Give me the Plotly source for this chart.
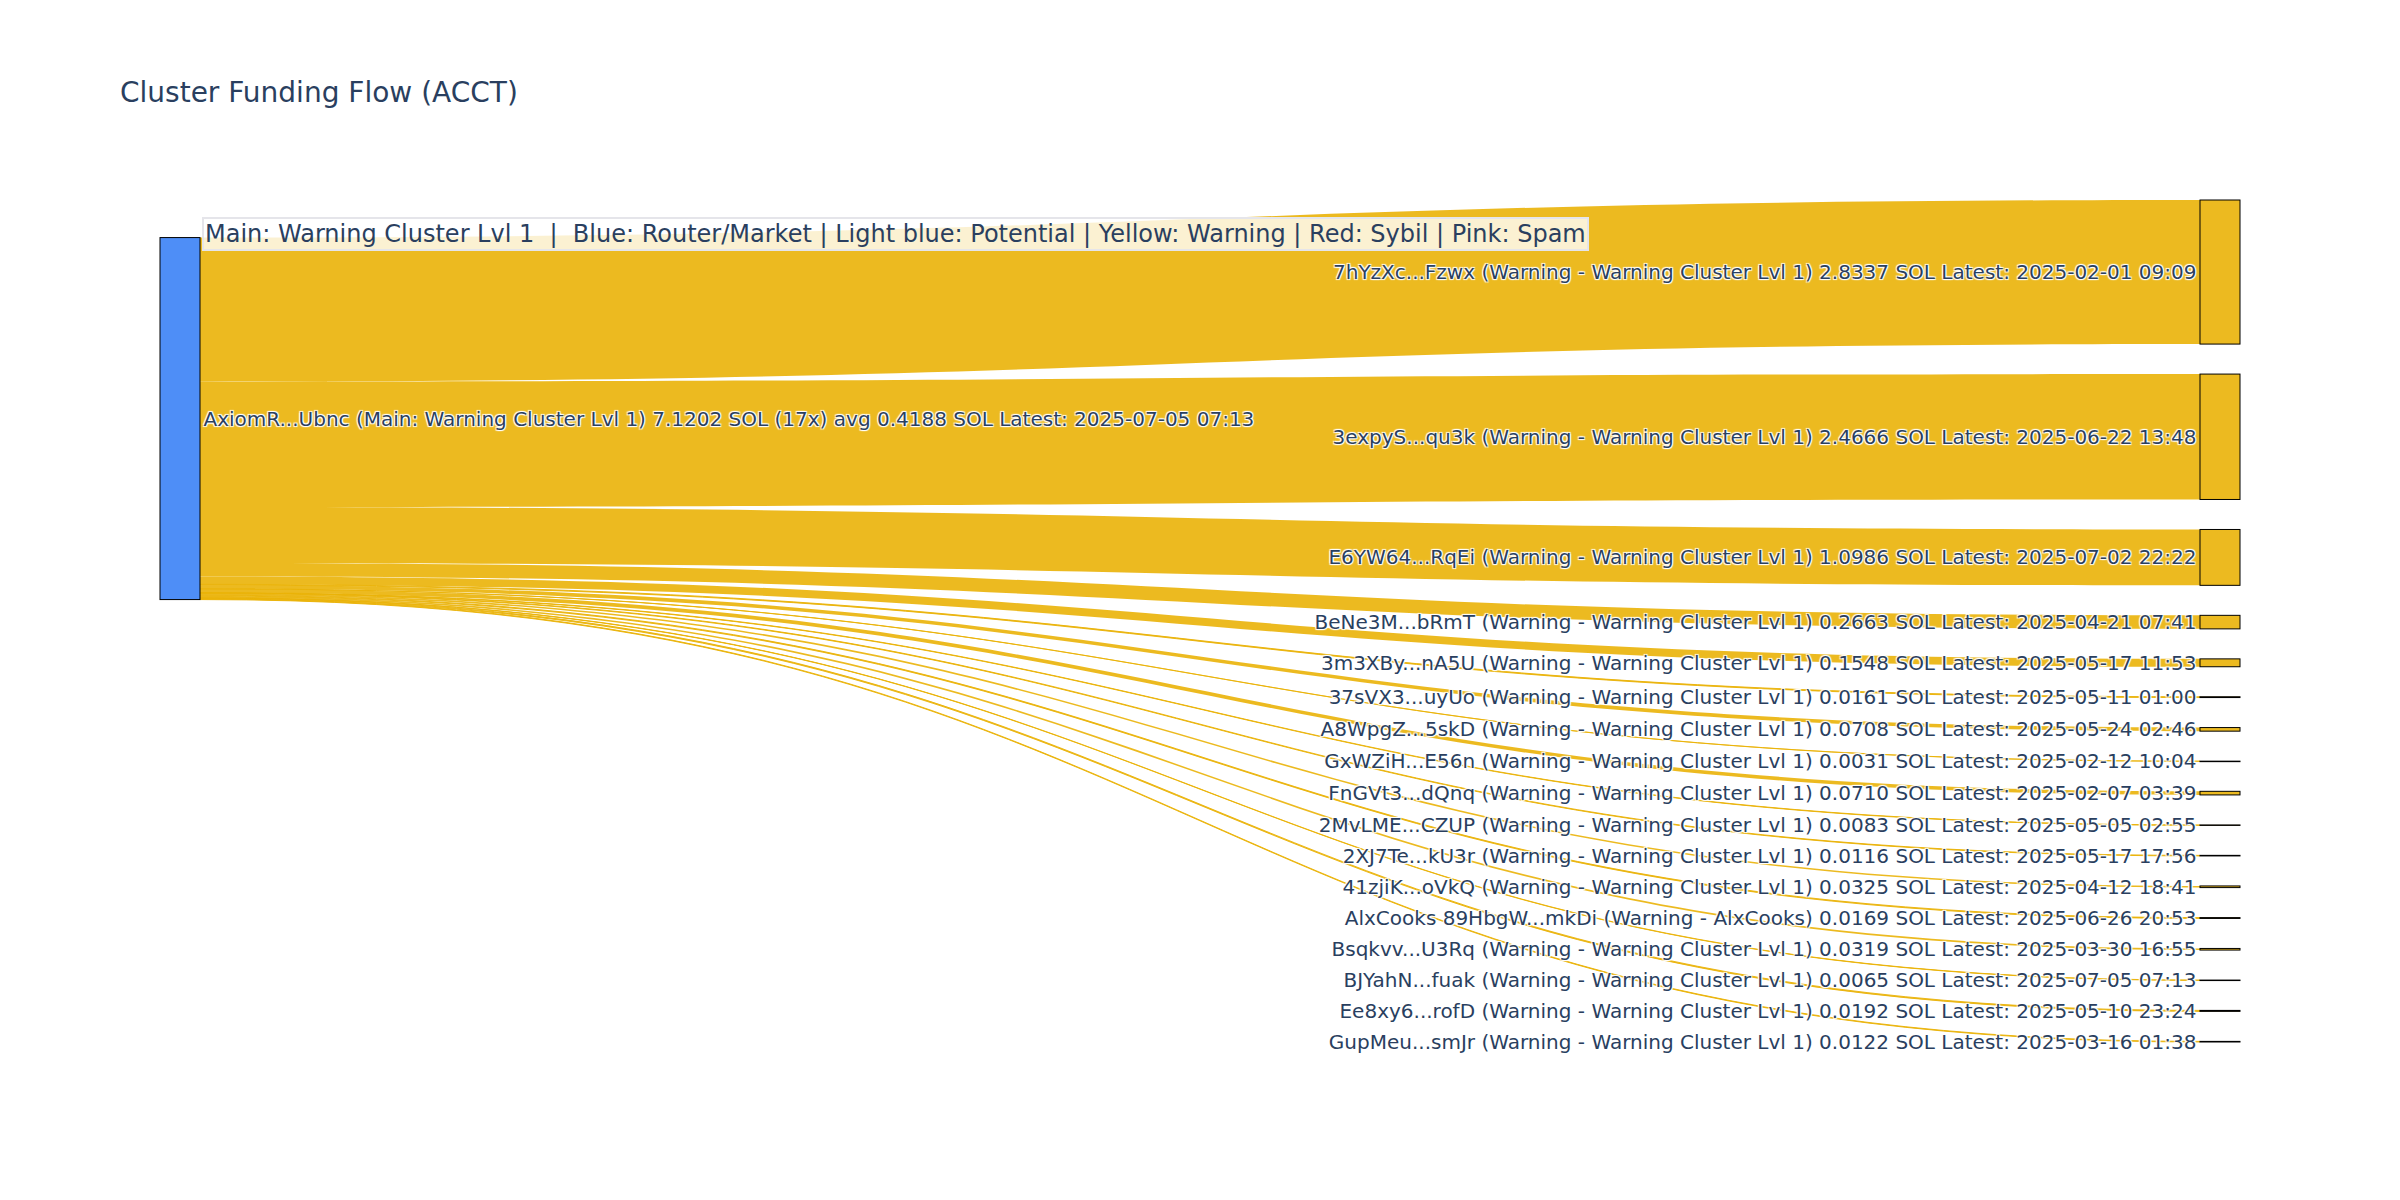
import plotly.graph_objects as go

# ---- data ----
main_id = "AxiomR...Ubnc"
main_group = "Main: Warning Cluster Lvl 1"
main_total = 7.1202
main_count = 17
main_avg = 0.4188
main_latest = "2025-07-05 07:13"

# recipients (input order; the sankey layout arranges them top-to-bottom)
target_ids = [
    "3expyS...qu3k", "E6YW64...RqEi", "BeNe3M...bRmT", "37sVX3...uyUo",
    "GxWZiH...E56n", "2MvLME...CZUP", "2XJ7Te...kU3r", "7hYzXc...Fzwx",
    "41zjiK...oVkQ", "AlxCooks 89HbgW...mkDi", "3m3XBy...nA5U",
    "Bsqkvv...U3Rq", "BJYahN...fuak", "A8WpgZ...5skD", "FnGVt3...dQnq",
    "Ee8xy6...rofD", "GupMeu...smJr",
]
target_groups = [
    "Warning - Warning Cluster Lvl 1", "Warning - Warning Cluster Lvl 1",
    "Warning - Warning Cluster Lvl 1", "Warning - Warning Cluster Lvl 1",
    "Warning - Warning Cluster Lvl 1", "Warning - Warning Cluster Lvl 1",
    "Warning - Warning Cluster Lvl 1", "Warning - Warning Cluster Lvl 1",
    "Warning - Warning Cluster Lvl 1", "Warning - AlxCooks",
    "Warning - Warning Cluster Lvl 1", "Warning - Warning Cluster Lvl 1",
    "Warning - Warning Cluster Lvl 1", "Warning - Warning Cluster Lvl 1",
    "Warning - Warning Cluster Lvl 1", "Warning - Warning Cluster Lvl 1",
    "Warning - Warning Cluster Lvl 1",
]
target_values = [
    2.4666, 1.0986, 0.2663, 0.0161, 0.0031, 0.0083, 0.0116, 2.8337,
    0.0325, 0.0169, 0.1548, 0.0319, 0.0065, 0.0708, 0.0710, 0.0192, 0.0122,
]
target_latest = [
    "2025-06-22 13:48", "2025-07-02 22:22", "2025-04-21 07:41",
    "2025-05-11 01:00", "2025-02-12 10:04", "2025-05-05 02:55",
    "2025-05-17 17:56", "2025-02-01 09:09", "2025-04-12 18:41",
    "2025-06-26 20:53", "2025-05-17 11:53", "2025-03-30 16:55",
    "2025-07-05 07:13", "2025-05-24 02:46", "2025-02-07 03:39",
    "2025-05-10 23:24", "2025-03-16 01:38",
]

legend_text = ("Main: Warning Cluster Lvl 1  |  Blue: Router/Market | Light blue: Potential"
               " | Yellow: Warning | Red: Sybil | Pink: Spam")
title_text = "Cluster Funding Flow (ACCT)"

# ---- styles ----
BLUE = "rgba(59,130,246,0.9)"
YELLOW = "rgba(234,179,8,0.9)"
FONT = "DejaVu Sans"
TEXT_COLOR = "#2a3f5f"

# ---- build ----
n = len(target_ids)
main_label = (f"{main_id} ({main_group}) {main_total:.4f} SOL ({main_count}x) "
              f"avg {main_avg:.4f} SOL Latest: {main_latest}")
labels = [main_label] + [
    f"{i} ({g}) {v:.4f} SOL Latest: {d}"
    for i, g, v, d in zip(target_ids, target_groups, target_values, target_latest)
]
node_colors = [BLUE] + [YELLOW] * n

fig = go.Figure(go.Sankey(
    orientation="h",
    node=dict(
        label=labels,
        color=node_colors,
        pad=30,
        thickness=40,
        line=dict(color="#000000", width=1),
    ),
    link=dict(
        source=[0] * n,
        target=list(range(1, n + 1)),
        value=target_values,
        color=[YELLOW] * n,
    ),
    textfont=dict(family=FONT, size=20, color=TEXT_COLOR),
))

fig.update_layout(
    width=2400,
    height=1200,
    margin=dict(l=152, r=168, t=192, b=166),
    paper_bgcolor="white",
    plot_bgcolor="white",
    font=dict(family=FONT, color=TEXT_COLOR),
    title=dict(text=title_text, x=112 / 2400, xanchor="left", y=0.93, yanchor="middle",
               font=dict(family=FONT, size=28, color=TEXT_COLOR)),
    annotations=[dict(
        text=legend_text, xref="paper", yref="paper", x=0.02, y=0.98,
        xanchor="left", yanchor="top", showarrow=False,
        font=dict(family=FONT, size=24, color=TEXT_COLOR),
        bgcolor="rgba(255,255,255,0.8)", bordercolor="#e5e5ea", borderwidth=2,
        borderpad=1,
    )],
)

fig.write_html("out.html")
